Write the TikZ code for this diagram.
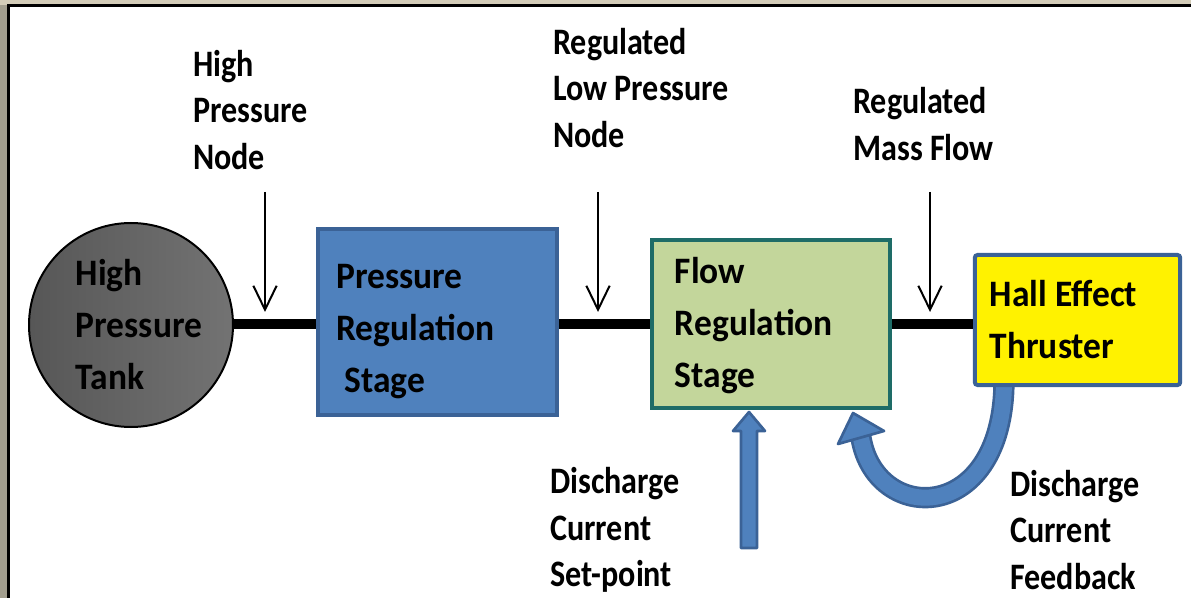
\documentclass[tikz,border=0pt]{standalone}
\usepackage{fontspec}
\setmainfont{Carlito}
\newfontfamily\lblfont{Carlito}[FakeStretch=0.86]
\newfontfamily\boxfont{Carlito}[FakeStretch=0.95]
\usetikzlibrary{arrows.meta,calc,positioning}

\definecolor{blockblue}{HTML}{4F81BD}
\definecolor{blockedge}{HTML}{3B6296}
\definecolor{flowfill}{HTML}{C3D69B}
\definecolor{flowedge}{HTML}{1E6C67}
\definecolor{frameside}{HTML}{A29E8E}
\definecolor{frametop}{HTML}{D3CCB8}

\begin{document}
\begin{tikzpicture}[x=0.75pt,y=-0.75pt,
  boxtxt/.style={font=\boxfont\bfseries\fontsize{28}{39}\selectfont,align=left,inner sep=0pt},
  lbl/.style={font=\lblfont\bfseries\fontsize{28}{35}\selectfont,align=left,anchor=west,inner sep=0pt},
  stage/.style={rectangle,line width=3pt,inner sep=0pt},
  pipe/.style={line width=7.5pt},
  probe/.style={line width=1.5pt,-{Straight Barb[length=18pt,width=17.5pt]}},
  blockarrow/.style={fill=blockblue,draw=blockedge,line width=2pt,line join=round},
  fbshaft/.style={draw=blockedge,double=blockblue,line width=2pt,double distance=12pt}]
  \useasboundingbox (0,0) rectangle (1191,598);

  % slide frame
  \fill[frameside] (0,0) rectangle (8,598);
  \fill[frametop] (0,0) rectangle (1191,5);
  \draw[line width=2pt] (8.7,598) -- (8.7,5.7) -- (1191,5.7);

  % tank and the three stages
  \node[circle,draw,line width=1.5pt,left color=black!66,right color=black!55,
        minimum size=153pt,inner sep=0pt] (tank) at (131,325) {};
  \node[boxtxt,xshift=6pt] (tanktxt) at (tank) {High\\Pressure\\Tank};

  \node[stage,fill=blockblue,draw=blockedge,minimum width=179pt,minimum height=140pt]
        (prs) at (437.5,322) {};
  \node[boxtxt,anchor=west,right=15pt of prs.west,yshift=-7.5pt] (prstxt)
        {Pressure\\Regulation\\\hspace{6pt}Stage};

  \node[stage,fill=flowfill,draw=flowedge,minimum width=178.5pt,minimum height=126pt]
        (flow) at (771,324) {};
  \node[boxtxt,anchor=west,right=18.5pt of flow.west,yshift=-1.5pt] (flowtxt)
        {Flow\\Regulation\\Stage};

  % feedback arrow, tail hidden under the thruster
  \coordinate (fbtail) at (1004,380);
  \coordinate (fbend) at (860,430);
  \draw[fbshaft] (fbtail) .. controls (1004,530) and (868,525) .. (fbend);
  \filldraw[blockarrow] (853,413) -- (884,431) -- (838,444) -- cycle;

  \node[stage,fill=yellow,draw=blockedge,rounded corners=2pt,minimum width=154pt,
        minimum height=97.5pt] (hall) at (1077.5,320) {};
  \node[boxtxt,anchor=west,right=12.5pt of hall.west] (halltxt) {Hall Effect\\Thruster};

  % gas line
  \draw[pipe] (tank.east |- flow) -- (prs.west |- flow);
  \draw[pipe] (prs.east |- flow) -- (flow);
  \draw[pipe] (flow.east) -- (flow.east -| hall.west);

  % nodes on the line
  \node[lbl] (hpn) at (193,110) {High\\Pressure\\Node};
  \node[lbl] (rlp) at (553,88) {Regulated\\Low Pressure\\Node};
  \node[lbl] (rmf) at (853,124) {Regulated\\Mass Flow};
  \foreach \px/\nm in {265/a,598/b,930/c}{
    \coordinate (top\nm) at (\px,192);
    \coordinate (tip\nm) at (\px,312);
    \draw[probe] (top\nm) -- (tip\nm);
  }

  % current set-point input
  \coordinate (spt) at (749,548);
  \filldraw[blockarrow] (spt) ++(-8,0) -- ++(0,-117) -- ++(-8,0) -- ++(16,-19)
        -- ++(16,19) -- ++(-8,0) -- ++(0,117) -- cycle;
  \node[lbl] (dcs) at (550,530) {Discharge\\Current\\Set-point};
  \node[lbl] (dcf) at (1010,530) {Discharge\\Current\\Feedback};
\end{tikzpicture}
\end{document}
